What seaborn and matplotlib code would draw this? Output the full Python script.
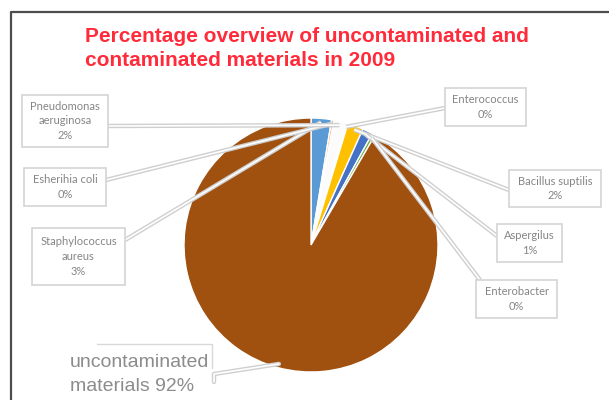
import numpy as np
import matplotlib
matplotlib.use("Agg")
import matplotlib.pyplot as plt
import matplotlib.patheffects as pe
from matplotlib.patches import Rectangle
import seaborn as sns

# ---- data ----
categories = ["Staphylococcus\naureus", "Esherihia coli", "Pneudomonas\naeruginosa",
              "Enterococcus", "Bacillus suptilis", "Aspergilus", "Enterobacter",
              "uncontaminated\nmaterials"]
values = [2.6, 0.3, 1.6, 0.2, 2.0, 1.3, 0.4, 91.6]
colors = ["#5B9BD5", "#F4B183", "#FBFBFB", "#FFE699", "#FFC000", "#4472C4", "#70AD47", "#A0500F"]
title = "Percentage overview of uncontaminated and\ncontaminated materials in 2009"

sns.set_theme(style="white")
plt.rcParams["font.family"] = ["Liberation Sans", "DejaVu Sans"]

W, H = 609, 400
fig = plt.figure(figsize=(W / 100, H / 100), dpi=100)
ax = fig.add_axes([0, 0, 1, 1])

def Y(y):
    return H - y

cx, cy, R = 311, Y(245), 127
wedges, _ = ax.pie(values, colors=colors, startangle=90, counterclock=False,
                   center=(cx, cy), radius=R, frame=True,
                   wedgeprops=dict(edgecolor="white", linewidth=1.0))
ax.set_xlim(0, W)
ax.set_ylim(0, H)
ax.set_aspect("equal")
ax.axis("off")

# frame of the chart area
ax.plot([11, 11, W + 5], [-5, Y(12), Y(12)], color="#4d4d4d", lw=1.6, clip_on=False)

# title
ax.text(85, Y(27), title, color="#FF2B3A", fontsize=15, fontweight="bold",
        ha="left", va="top", linespacing=1.3, family=["Liberation Sans"])

# label boxes: (x0, y0, x1, y1) in pixel coords and leader-line anchor
boxes = [
    ((32, 228, 125, 285), (125, 240)),   # Staph
    ((24, 168, 106, 206), (106, 180)),   # E. coli
    ((22, 95, 108, 147), (108, 126)),    # Pneudomonas
    ((445, 88, 526, 126), (445, 108)),   # Enterococcus
    ((509, 170, 601, 207), (509, 190)),  # Bacillus
    ((497, 224, 562, 262), (497, 236)),  # Aspergilus
    ((476, 280, 557, 318), (480, 280)),  # Enterobacter
]

line_fx = [pe.withStroke(linewidth=3.2, foreground="#cfcfcf")]

for i, w in enumerate(wedges):
    mid = np.deg2rad((w.theta1 + w.theta2) / 2)
    px, py = cx + R * 0.97 * np.cos(mid), cy + R * 0.97 * np.sin(mid)
    pct = f"{round(values[i]):.0f}%"
    if i < len(boxes):
        (x0, y0, x1, y1), (ax_, ay_) = boxes[i]
        ax.plot([px, ax_], [py, Y(ay_)], color="white", lw=1.2, path_effects=line_fx,
                solid_capstyle="butt", zorder=3)
        ax.add_patch(Rectangle((x0, Y(y1)), x1 - x0, y1 - y0, facecolor="white",
                               edgecolor="#d4d4d4", lw=1.2, zorder=4))
        ax.text((x0 + x1) / 2, Y((y0 + y1) / 2), categories[i] + "\n" + pct,
                ha="center", va="center", fontsize=8, color="#858585",
                linespacing=1.4, family=["Lato", "DejaVu Sans"], zorder=5)
    else:
        ax.plot([px, 214, 214], [py, Y(374), Y(382)], color="white", lw=1.2,
                path_effects=line_fx, zorder=3)
        ax.plot([97, 212, 212], [Y(344), Y(344), Y(368)], color="#d8d8d8", lw=1.0, zorder=3)
        ax.text(70, Y(367), categories[i].split("\n")[0], ha="left", va="baseline",
                fontsize=14, color="#8c8c8c", zorder=5)
        ax.text(70, Y(391), categories[i].split("\n")[1] + " " + pct, ha="left",
                va="baseline", fontsize=14, color="#8c8c8c", zorder=5)

fig.savefig("out.png", dpi=100)
